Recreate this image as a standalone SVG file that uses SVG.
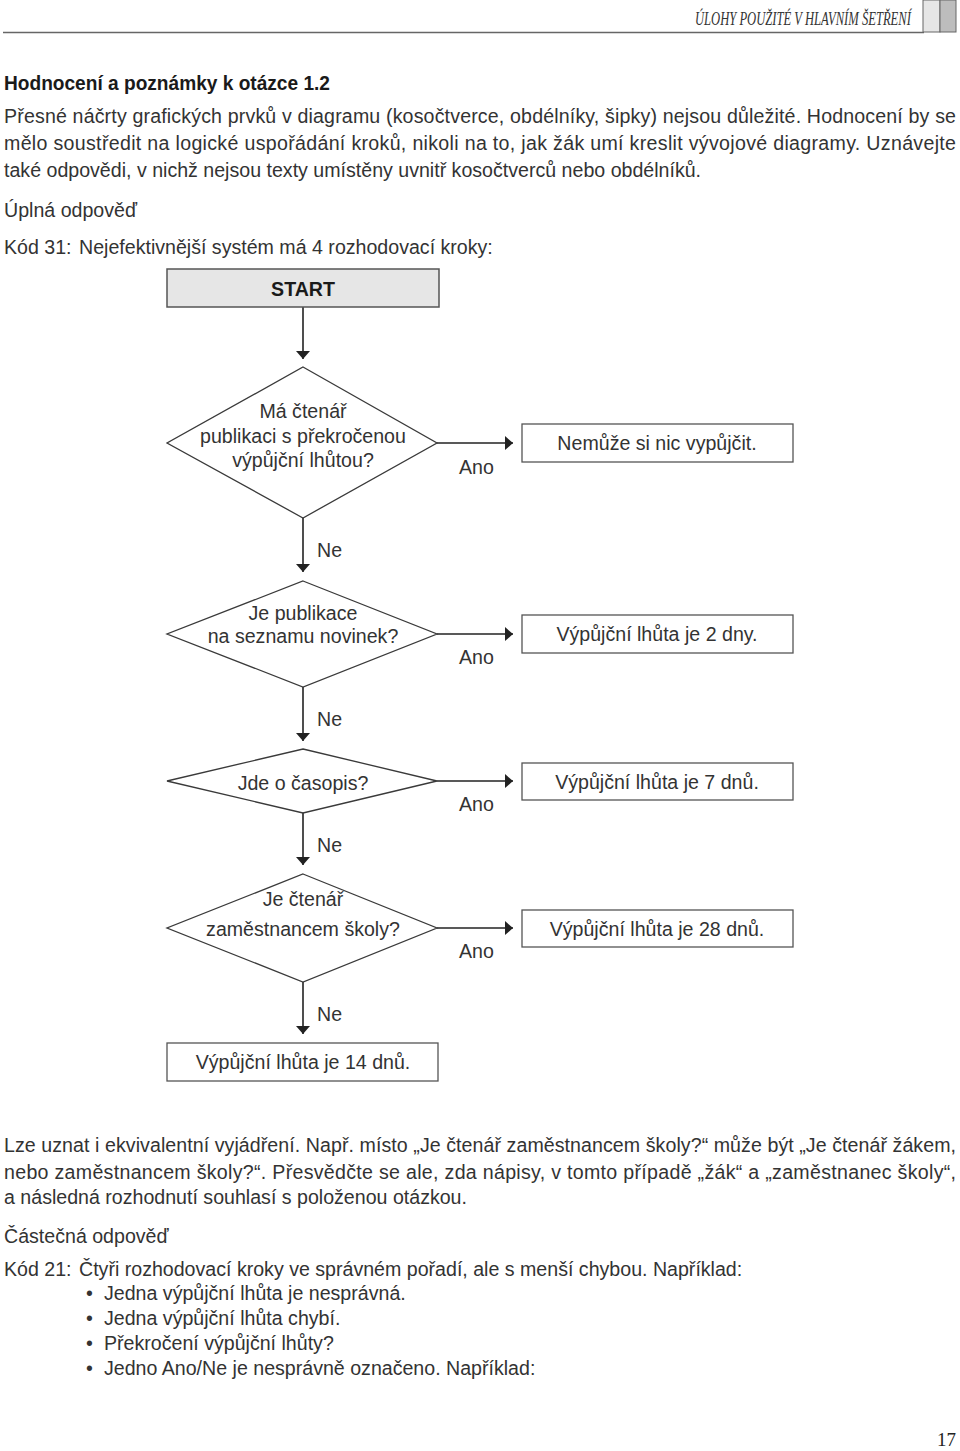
<svg xmlns="http://www.w3.org/2000/svg" width="960" height="1451" viewBox="0 0 960 1451">
<style>
text{font-family:"Liberation Sans",Arial,sans-serif;font-size:19.6px;fill:#333}
.b{font-weight:bold;fill:#1a1a1a}
.c{text-anchor:middle}
.hdr{font-family:"Liberation Serif","Times New Roman",serif;font-style:italic;font-size:18px;fill:#333}
.pg{font-family:"Liberation Serif","Times New Roman",serif;font-size:19px;fill:#222}
.shape{fill:#fff;stroke:#3a3a3a;stroke-width:1.3}
.box{fill:#fff;stroke:#555;stroke-width:1.3}
.conn{stroke:#222;stroke-width:1.6;fill:none}
</style>
<defs>
<marker id="ah" markerUnits="userSpaceOnUse" markerWidth="9" markerHeight="14" refX="8" refY="7" orient="auto">
<path d="M0,0 L8,7 L0,14 z" fill="#222"/>
</marker>
</defs>
<rect width="960" height="1451" fill="#fff"/>

<g id="header">
<line x1="3" y1="32.5" x2="924" y2="32.5" stroke="#666" stroke-width="1.5"/>
<text class="hdr" x="0" y="0" transform="matrix(0.7,0,0,1,695,25)">ÚLOHY POUŽITÉ V HLAVNÍM ŠETŘENÍ</text>
<rect x="923" y="0" width="17" height="32" fill="#e6e6e6" stroke="#666" stroke-width="1"/>
<rect x="940" y="0" width="16" height="32" fill="#bdbdbd" stroke="#666" stroke-width="1"/>
</g>

<g id="intro">
<text class="b" x="4" y="90" textLength="326" lengthAdjust="spacingAndGlyphs">Hodnocení a poznámky k otázce 1.2</text>
<text x="4" y="123" textLength="952" lengthAdjust="spacing">Přesné náčrty grafických prvků v diagramu (kosočtverce, obdélníky, šipky) nejsou důležité. Hodnocení by se</text>
<text x="4" y="150" textLength="952" lengthAdjust="spacing">mělo soustředit na logické uspořádání kroků, nikoli na to, jak žák umí kreslit vývojové diagramy. Uznávejte</text>
<text x="4" y="177">také odpovědi, v nichž nejsou texty umístěny uvnitř kosočtverců nebo obdélníků.</text>
<text x="4" y="217">Úplná odpověď</text>
<text x="4" y="254">Kód 31:</text>
<text x="79" y="254">Nejefektivnější systém má 4 rozhodovací kroky:</text>
</g>

<g id="connectors">
<line class="conn" x1="303" y1="307" x2="303" y2="359" marker-end="url(#ah)"/>
<line class="conn" x1="437" y1="443" x2="513" y2="443" marker-end="url(#ah)"/>
<line class="conn" x1="303" y1="518" x2="303" y2="572" marker-end="url(#ah)"/>
<line class="conn" x1="437" y1="634" x2="513" y2="634" marker-end="url(#ah)"/>
<line class="conn" x1="303" y1="687" x2="303" y2="741" marker-end="url(#ah)"/>
<line class="conn" x1="437" y1="781" x2="513" y2="781" marker-end="url(#ah)"/>
<line class="conn" x1="303" y1="813" x2="303" y2="865" marker-end="url(#ah)"/>
<line class="conn" x1="437" y1="928" x2="513" y2="928" marker-end="url(#ah)"/>
<line class="conn" x1="303" y1="982" x2="303" y2="1034" marker-end="url(#ah)"/>
<text x="459" y="474">Ano</text>
<text x="317" y="557">Ne</text>
<text x="459" y="664">Ano</text>
<text x="317" y="726">Ne</text>
<text x="459" y="811">Ano</text>
<text x="317" y="852">Ne</text>
<text x="459" y="958">Ano</text>
<text x="317" y="1021">Ne</text>
</g>

<g id="start">
<rect x="167" y="269" width="272" height="38" fill="#e6e6e6" stroke="#555" stroke-width="1.5"/>
<text class="b c" x="303" y="296">START</text>
</g>

<g id="d1">
<polygon class="shape" points="303,367 437,443 303,518 167,443"/>
<text class="c" x="303" y="418">Má čtenář</text>
<text class="c" x="303" y="443">publikaci s překročenou</text>
<text class="c" x="303" y="467">výpůjční lhůtou?</text>
</g>
<g id="r1">
<rect class="box" x="522" y="424" width="271" height="38"/>
<text class="c" x="657" y="450">Nemůže si nic vypůjčit.</text>
</g>

<g id="d2">
<polygon class="shape" points="303,581 437,634 303,687 167,634"/>
<text class="c" x="303" y="620">Je publikace</text>
<text class="c" x="303" y="643">na seznamu novinek?</text>
</g>
<g id="r2">
<rect class="box" x="522" y="615" width="271" height="38"/>
<text class="c" x="657" y="641">Výpůjční lhůta je 2 dny.</text>
</g>

<g id="d3">
<polygon class="shape" points="303,749 437,781 303,813 167,781"/>
<text class="c" x="303" y="790">Jde o časopis?</text>
</g>
<g id="r3">
<rect class="box" x="522" y="763" width="271" height="37"/>
<text class="c" x="657" y="789">Výpůjční lhůta je 7 dnů.</text>
</g>

<g id="d4">
<polygon class="shape" points="303,874 437,928 303,982 167,928"/>
<text class="c" x="303" y="906">Je čtenář</text>
<text class="c" x="303" y="936">zaměstnancem školy?</text>
</g>
<g id="r4">
<rect class="box" x="522" y="910" width="271" height="37"/>
<text class="c" x="657" y="936">Výpůjční lhůta je 28 dnů.</text>
</g>

<g id="r5">
<rect class="box" x="167" y="1043" width="271" height="38"/>
<text class="c" x="303" y="1069">Výpůjční lhůta je 14 dnů.</text>
</g>

<g id="notes">
<text x="4" y="1152" textLength="952" lengthAdjust="spacing">Lze uznat i ekvivalentní vyjádření. Např. místo „Je čtenář zaměstnancem školy?“ může být „Je čtenář žákem,</text>
<text x="4" y="1179" textLength="952" lengthAdjust="spacing">nebo zaměstnancem školy?“. Přesvědčte se ale, zda nápisy, v tomto případě „žák“ a „zaměstnanec školy“,</text>
<text x="4" y="1204">a následná rozhodnutí souhlasí s položenou otázkou.</text>
<text x="4" y="1243">Částečná odpověď</text>
<text x="4" y="1276">Kód 21:</text>
<text x="79" y="1276">Čtyři rozhodovací kroky ve správném pořadí, ale s menší chybou. Například:</text>
<text x="86" y="1300">•</text><text x="104" y="1300">Jedna výpůjční lhůta je nesprávná.</text>
<text x="86" y="1325">•</text><text x="104" y="1325">Jedna výpůjční lhůta chybí.</text>
<text x="86" y="1350">•</text><text x="104" y="1350">Překročení výpůjční lhůty?</text>
<text x="86" y="1375">•</text><text x="104" y="1375">Jedno Ano/Ne je nesprávně označeno. Například:</text>
</g>

<g id="footer">
<text class="pg" x="956" y="1446" text-anchor="end">17</text>
</g>
</svg>
